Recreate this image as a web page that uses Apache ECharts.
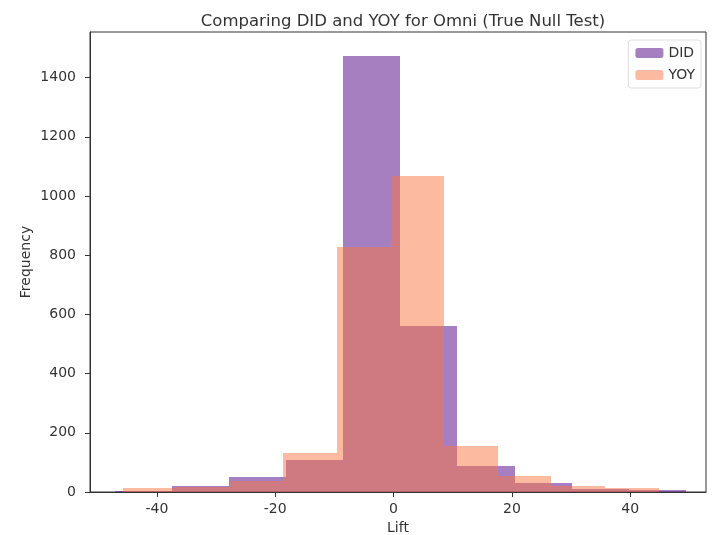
<!DOCTYPE html>
<html>
<head>
<meta charset="utf-8">
<script src="https://cdn.jsdelivr.net/npm/echarts@6/dist/echarts.min.js"></script>
<style>
    html, body { margin: 0; padding: 0; background: #fff; }
    #chart { width: 719px; height: 535px; }
</style>
</head>
<body>
<div id="chart"></div>
<script>
// histogram bin edges and counts
const didEdges = [-47.1, -37.45, -27.8, -18.15, -8.5, 1.15, 10.8, 20.45, 30.1, 39.75, 49.4];
const didCounts = [5, 19, 51, 107, 1474, 561, 87, 29, 11, 8];
const yoyEdges = [-45.8, -36.74, -27.68, -18.62, -9.56, -0.5, 8.56, 17.62, 26.68, 35.74, 44.8];
const yoyCounts = [13, 18, 36, 132, 829, 1068, 155, 54, 20, 12];
const xTicks = [-40, -20, 0, 20, 40];
const yTicks = [0, 200, 400, 600, 800, 1000, 1200, 1400];

const font = 'DejaVu Sans';
const textColor = '#333';

function binData(edges, counts) {
    return counts.map((c, i) => [edges[i], edges[i + 1], c]);
}

function renderBin(params, api) {
    // snap to whole pixels so neighbouring bins meet without a seam
    let p0 = api.coord([api.value(0), api.value(2)]).map(Math.round);
    let p1 = api.coord([api.value(1), 0]).map(Math.round);
    return {
        type: 'rect',
        shape: { x: p0[0], y: p0[1], width: p1[0] - p0[0], height: p1[1] - p0[1] },
        style: { fill: api.visual('color') }
    };
}

let chart = echarts.init(document.getElementById('chart'), null, { renderer: 'canvas' });

chart.setOption({
    animation: false,
    backgroundColor: '#fff',
    textStyle: { fontFamily: font },
    title: {
        text: 'Comparing DID and YOY for Omni (True Null Test)',
        left: 398,
        textAlign: 'center',
        top: 8,
        textStyle: { fontFamily: font, fontSize: 16.5, fontWeight: 'normal', color: textColor }
    },
    legend: {
        orient: 'vertical',
        right: 18,
        top: 40,
        itemWidth: 28,
        itemHeight: 10,
        itemGap: 8,
        padding: [6, 6, 6, 7],
        borderColor: '#ddd',
        borderWidth: 1,
        borderRadius: 3,
        textStyle: { fontFamily: font, fontSize: 14, color: textColor },
        data: ['DID', 'YOY']
    },
    grid: {
        left: 90, right: 13, top: 32, bottom: 43,
        outerBoundsMode: 'none',
        show: true, borderColor: '#333', borderWidth: 1
    },
    xAxis: {
        type: 'value',
        min: -51.3,
        max: 52.8,
        name: 'Lift',
        nameLocation: 'middle',
        nameGap: 28,
        nameTextStyle: { fontFamily: font, fontSize: 14, color: textColor },
        axisLine: { show: true, onZero: false, lineStyle: { color: '#333' } },
        axisTick: { show: true, customValues: xTicks, length: 5, lineStyle: { color: '#333' } },
        axisLabel: { customValues: xTicks, fontFamily: font, fontSize: 14, color: textColor, margin: 10 },
        splitLine: { show: false }
    },
    yAxis: {
        type: 'value',
        min: 0,
        max: 1554,
        name: 'Frequency',
        nameLocation: 'middle',
        nameGap: 57,
        nameMoveOverlap: false,
        nameTextStyle: { fontFamily: font, fontSize: 14, color: textColor },
        axisLine: { show: true, onZero: false, lineStyle: { color: '#333' } },
        axisTick: { show: true, customValues: yTicks, length: 5, lineStyle: { color: '#333' } },
        axisLabel: {
            customValues: yTicks,
            formatter: v => String(v),
            fontFamily: font, fontSize: 14, color: textColor, margin: 14
        },
        splitLine: { show: false }
    },
    series: [
        {
            name: 'DID',
            type: 'custom',
            renderItem: renderBin,
            encode: { x: [0, 1], y: 2 },
            itemStyle: { color: 'rgba(75, 0, 130, 0.5)' },
            data: binData(didEdges, didCounts)
        },
        {
            name: 'YOY',
            type: 'custom',
            renderItem: renderBin,
            encode: { x: [0, 1], y: 2 },
            itemStyle: { color: 'rgba(250, 118, 66, 0.5)' },
            data: binData(yoyEdges, yoyCounts)
        }
    ]
});
</script>
</body>
</html>
